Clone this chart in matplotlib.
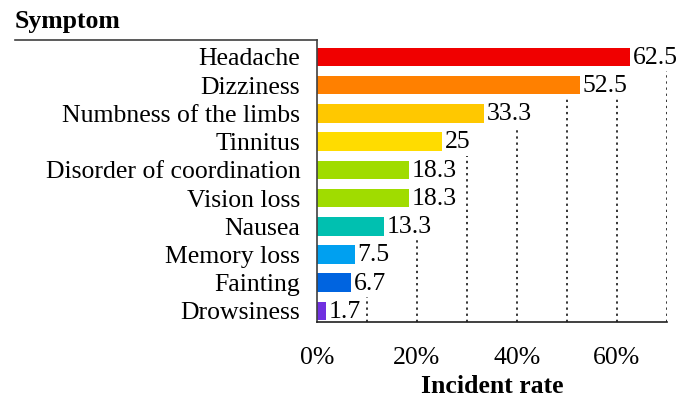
import matplotlib.pyplot as plt
from matplotlib.lines import Line2D
from matplotlib.ticker import FuncFormatter

plt.rcParams['font.family'] = 'Liberation Serif'

symptoms = ["Headache", "Dizziness", "Numbness of the limbs", "Tinnitus",
            "Disorder of coordination", "Vision loss", "Nausea",
            "Memory loss", "Fainting", "Drowsiness"]
rates = [62.5, 52.5, 33.3, 25, 18.3, 18.3, 13.3, 7.5, 6.7, 1.7]
labels = ["62.5", "52.5", "33.3", "25", "18.3", "18.3", "13.3", "7.5", "6.7", "1.7"]
colors = ["#f00000", "#ff8000", "#ffc800", "#ffdc00", "#a0dc00", "#a0dc00",
          "#00c0b0", "#00a0f0", "#0064e0", "#7030e0"]
grid_x = [10, 20, 30, 40, 50, 60, 70]

fs = 18.5

fig = plt.figure(figsize=(6.88, 4.01), dpi=100)
ax = fig.add_axes([317 / 688, 1 - 322 / 401, 350 / 688, 282 / 401])

y = list(range(len(symptoms)))
ax.barh(y, rates, height=0.66, color=colors, zorder=2)
texts = []
for yi, r, lab in zip(y, rates, labels):
    texts.append(ax.text(r + 0.6, yi + 0.03, lab, va="center", ha="left",
                         fontsize=fs, zorder=3))

ax.set_xlim(0, 70)
ax.set_ylim(9.39, -0.6)
ax.set_xticks([0, 20, 40, 60])
ax.xaxis.set_major_formatter(FuncFormatter(lambda v, p: f"{int(v)}%"))
ax.set_yticks(y)
ax.set_yticklabels(symptoms)
ax.tick_params(axis="both", length=0, labelsize=fs)
ax.tick_params(axis="x", pad=18)
ax.tick_params(axis="y", pad=12)

# gridlines only show below the rows whose bar + label reach past them
fig.canvas.draw()
inv = ax.transData.inverted()
row_ends = [inv.transform(t.get_window_extent().get_points())[1][0] + 0.4
            for t in texts]
for gx in grid_x:
    covered = [i for i, e in enumerate(row_ends) if e >= gx]
    start = max(covered) + 0.5 if covered else -0.6
    ax.vlines(gx, 9.39, start, color="black", linestyle=(0, (1.5, 2.5)),
              linewidth=1.1, zorder=1)

ax.spines["top"].set_visible(False)
ax.spines["right"].set_visible(False)
for s in ("left", "bottom"):
    ax.spines[s].set_linewidth(1.2)
    ax.spines[s].set_zorder(5)
ax.spines["left"].set_color("#404040")
ax.spines["bottom"].set_color("#202020")

fig.add_artist(Line2D([15 / 688, 317 / 688], [1 - 40 / 401, 1 - 40 / 401],
                      color="#404040", linewidth=1.2))
fig.text(15 / 688, 1 - 28 / 401, "Symptom", fontsize=fs, fontweight="bold",
         ha="left", va="baseline")
fig.text(492 / 688, 1 - 393 / 401, "Incident rate", fontsize=fs, fontweight="bold",
         ha="center", va="baseline")

fig.savefig("out.png", dpi=100)
